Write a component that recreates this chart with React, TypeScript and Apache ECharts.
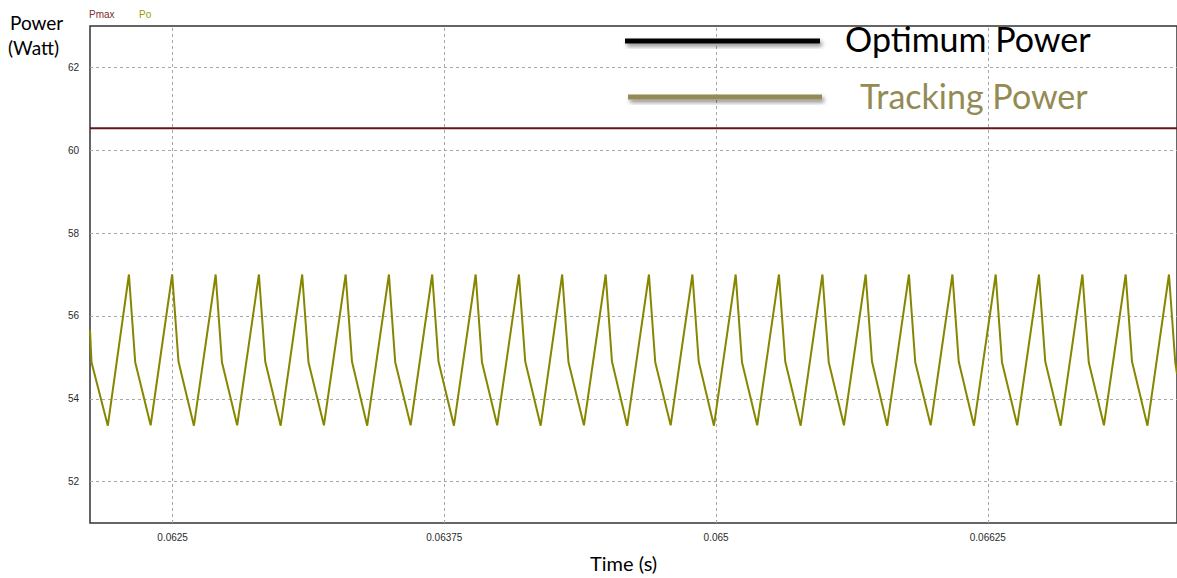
import React, { useEffect, useRef } from "react";
import * as echarts from "echarts";

// ---- data ----
const xMin = 0.06212;
const xMax = 0.06712;
const yMin = 51;
const yMax = 63;
const xTickValues = [0.0625, 0.06375, 0.065, 0.06625];
const xTickLabels = ["0.0625", "0.06375", "0.065", "0.06625"];
const yTickValues = [52, 54, 56, 58, 60, 62];
const yTickLabels = ["52", "54", "56", "58", "60", "62"];

const seriesNames = ["Pmax", "Po"];
const pmaxTime = [0.06212, 0.06712];
const pmaxValue = [60.53, 60.53];

// Po (tracking power) vertices: [time (s), power (W)]
const poSamples: [number, number][] = [
  [0.06212, 55.66], [0.062127, 54.88], [0.062202, 53.35],
  [0.062299, 57.0], [0.062328, 54.88], [0.062399, 53.36],
  [0.062498, 57.0], [0.062527, 54.9], [0.062598, 53.35],
  [0.062698, 57.0], [0.062727, 54.88], [0.062797, 53.36],
  [0.062897, 57.0], [0.062926, 54.9], [0.062997, 53.35],
  [0.063096, 57.0], [0.063125, 54.88], [0.063196, 53.36],
  [0.063296, 57.0], [0.063325, 54.9], [0.063395, 53.35],
  [0.063495, 57.0], [0.063524, 54.88], [0.063595, 53.36],
  [0.063694, 57.0], [0.063723, 54.9], [0.063794, 53.35],
  [0.063894, 57.0], [0.063923, 54.88], [0.063993, 53.36],
  [0.064093, 57.0], [0.064122, 54.9], [0.064193, 53.35],
  [0.064292, 57.0], [0.064321, 54.88], [0.064392, 53.36],
  [0.064492, 57.0], [0.064521, 54.9], [0.064591, 53.35],
  [0.064691, 57.0], [0.06472, 54.88], [0.064791, 53.36],
  [0.064891, 57.0], [0.06492, 54.9], [0.06499, 53.35],
  [0.06509, 57.0], [0.065119, 54.88], [0.065189, 53.36],
  [0.065289, 57.0], [0.065318, 54.9], [0.065389, 53.35],
  [0.065489, 57.0], [0.065518, 54.88], [0.065588, 53.36],
  [0.065688, 57.0], [0.065717, 54.9], [0.065787, 53.35],
  [0.065887, 57.0], [0.065916, 54.88], [0.065987, 53.36],
  [0.066087, 57.0], [0.066116, 54.9], [0.066186, 53.35],
  [0.066286, 57.0], [0.066315, 54.88], [0.066385, 53.36],
  [0.066485, 57.0], [0.066514, 54.9], [0.066585, 53.35],
  [0.066685, 57.0], [0.066714, 54.88], [0.066784, 53.36],
  [0.066884, 57.0], [0.066913, 54.9], [0.066984, 53.35],
  [0.067083, 57.0], [0.067112, 54.88], [0.06712, 54.6],
];

const yAxisTitle = ["Power", "(Watt)"];
const xAxisTitle = "Time (s)";
const legendLabels = ["Optimum Power", "Tracking Power"];

const C_PMAX = "#641616";
const C_PO = "#868600";
const C_TRACK = "#948a54";
const C_GRID = "#a8a8a8";

function labelFor(values: number[], labels: string[], v: number) {
  const i = values.findIndex((t) => Math.abs(t - v) < 1e-9);
  return i >= 0 ? labels[i] : "";
}

export default function App() {
  const ref = useRef<HTMLDivElement>(null);

  useEffect(() => {
    if (!ref.current) return;
    const chart = echarts.init(ref.current, null, { renderer: "svg" });
    const small = { fontFamily: "Liberation Sans", fontSize: 10, color: "#2a2a2a" };
    const shadow = { shadowBlur: 4, shadowColor: "rgba(0,0,0,0.45)", shadowOffsetX: 2, shadowOffsetY: 3 };
    chart.setOption({
      animation: false,
      backgroundColor: "#ffffff",
      grid: {
        left: 90,
        top: 26,
        width: 1090,
        height: 497,
        show: true,
        borderColor: "#333",
        borderWidth: 1.5,
        containLabel: false,
      },
      xAxis: {
        type: "value",
        min: xMin,
        max: xMax,
        axisLine: { show: false },
        axisTick: { show: false },
        splitLine: { show: false },
        axisLabel: {
          ...small,
          margin: 9,
          customValues: xTickValues,
          formatter: (v: number) => labelFor(xTickValues, xTickLabels, v),
        },
      },
      yAxis: {
        type: "value",
        min: yMin,
        max: yMax,
        axisLine: { show: false },
        axisTick: { show: false },
        splitLine: { show: false },
        axisLabel: {
          ...small,
          margin: 11,
          customValues: yTickValues,
          formatter: (v: number) => labelFor(yTickValues, yTickLabels, v),
        },
      },
      series: [
        {
          name: seriesNames[0],
          type: "line",
          z: 2,
          showSymbol: false,
          data: pmaxTime.map((t, i) => [t, pmaxValue[i]]),
          lineStyle: { color: C_PMAX, width: 2 },
          itemStyle: { color: C_PMAX },
          markLine: {
            silent: true,
            symbol: ["none", "none"],
            label: { show: false },
            lineStyle: { color: C_GRID, width: 1, type: [3, 3] },
            z: 1,
            data: [
              ...xTickValues.map((v) => [{ coord: [v, yMin] }, { coord: [v, yMax] }]),
              ...yTickValues.map((v) => [{ coord: [xMin, v] }, { coord: [xMax, v] }]),
            ],
          },
        },
        {
          name: seriesNames[1],
          type: "line",
          z: 3,
          showSymbol: false,
          data: poSamples,
          lineStyle: { color: C_PO, width: 2 },
          itemStyle: { color: C_PO },
        },
      ],
      graphic: [
        { type: "text", left: 89, top: 9, style: { text: seriesNames[0], fill: "#7f2d2d", font: "10px 'Liberation Sans'" } },
        { type: "text", left: 139, top: 9, style: { text: seriesNames[1], fill: "#9a9a00", font: "10px 'Liberation Sans'" } },
        { type: "text", left: 10, top: 13, style: { text: yAxisTitle[0], fill: "#000", font: "19px Lato" } },
        { type: "text", left: 8, top: 38, style: { text: yAxisTitle[1], fill: "#000", font: "19px Lato" } },
        { type: "text", left: 590, top: 553, style: { text: xAxisTitle, fill: "#000", font: "20px Lato" } },
        {
          type: "rect",
          z: 10,
          shape: { x: 625, y: 38.5, width: 195, height: 5 },
          style: { fill: "#000", ...shadow },
        },
        {
          type: "rect",
          z: 10,
          shape: { x: 628, y: 94.5, width: 194, height: 5 },
          style: { fill: C_TRACK, ...shadow },
        },
        { type: "text", left: 845, top: 21, z: 10, style: { text: legendLabels[0], fill: "#000", font: "34px Lato" } },
        { type: "text", left: 860, top: 78, z: 10, style: { text: legendLabels[1], fill: C_TRACK, font: "34px Lato" } },
      ],
    });
    return () => chart.dispose();
  }, []);

  return (
    <div
      ref={ref}
      style={{ position: "fixed", left: 0, top: 0, width: 1177, height: 578, background: "#fff" }}
    />
  );
}
